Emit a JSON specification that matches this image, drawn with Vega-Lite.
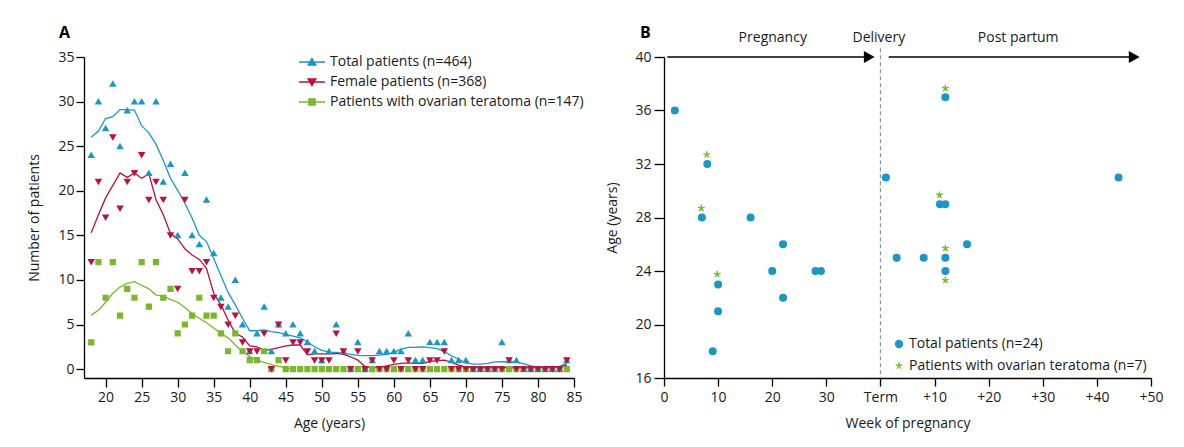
{
  "$schema": "https://vega.github.io/schema/vega-lite/v6.json",
  "background": "white",
  "padding": {"left": 27, "top": 24, "right": 5, "bottom": 5},
  "spacing": 21,
  "resolve": {
    "scale": {"fill": "independent", "stroke": "independent", "shape": "independent", "color": "independent"},
    "legend": {"fill": "independent", "stroke": "independent", "shape": "independent", "color": "independent"}
  },
  "config": {
    "view": {"stroke": null},
    "font": "Open Sans",
    "axis": {"domainColor": "#000", "domainWidth": 1.3, "tickColor": "#000", "tickWidth": 1.3, "labelFont": "Open Sans", "labelFontSize": 14, "labelColor": "#1a1a1a", "titleFont": "Open Sans", "titleFontSize": 14, "titleFontWeight": "normal", "titleColor": "#1a1a1a", "grid": false, "labelFlush": false, "labelOverlap": false},
    "legend": {"labelFont": "Open Sans", "labelFontSize": 14, "labelColor": "#1a1a1a", "symbolFillColor": "#000"}
  },
  "datasets": {
    "ptsA": [
      {"a":18,"n":3,"s":"O"},{"a":19,"n":12,"s":"O"},{"a":20,"n":8,"s":"O"},{"a":21,"n":12,"s":"O"},{"a":22,"n":6,"s":"O"},{"a":23,"n":9,"s":"O"},{"a":24,"n":8,"s":"O"},{"a":25,"n":12,"s":"O"},{"a":26,"n":7,"s":"O"},{"a":27,"n":12,"s":"O"},
      {"a":28,"n":8,"s":"O"},{"a":29,"n":9,"s":"O"},{"a":30,"n":4,"s":"O"},{"a":31,"n":5,"s":"O"},{"a":32,"n":6,"s":"O"},{"a":33,"n":8,"s":"O"},{"a":34,"n":6,"s":"O"},{"a":35,"n":6,"s":"O"},{"a":36,"n":4,"s":"O"},{"a":37,"n":2,"s":"O"},
      {"a":38,"n":4,"s":"O"},{"a":39,"n":2,"s":"O"},{"a":40,"n":1,"s":"O"},{"a":41,"n":1,"s":"O"},{"a":42,"n":2,"s":"O"},{"a":43,"n":0,"s":"O"},{"a":44,"n":1,"s":"O"},{"a":45,"n":0,"s":"O"},{"a":46,"n":0,"s":"O"},{"a":47,"n":0,"s":"O"},
      {"a":48,"n":0,"s":"O"},{"a":49,"n":0,"s":"O"},{"a":50,"n":0,"s":"O"},{"a":51,"n":0,"s":"O"},{"a":52,"n":0,"s":"O"},{"a":53,"n":0,"s":"O"},{"a":54,"n":0,"s":"O"},{"a":55,"n":0,"s":"O"},{"a":56,"n":0,"s":"O"},{"a":57,"n":0,"s":"O"},
      {"a":58,"n":0,"s":"O"},{"a":59,"n":0,"s":"O"},{"a":60,"n":0,"s":"O"},{"a":61,"n":0,"s":"O"},{"a":62,"n":0,"s":"O"},{"a":63,"n":0,"s":"O"},{"a":64,"n":0,"s":"O"},{"a":65,"n":0,"s":"O"},{"a":66,"n":0,"s":"O"},{"a":67,"n":0,"s":"O"},
      {"a":68,"n":0,"s":"O"},{"a":69,"n":0,"s":"O"},{"a":70,"n":0,"s":"O"},{"a":71,"n":0,"s":"O"},{"a":72,"n":0,"s":"O"},{"a":73,"n":0,"s":"O"},{"a":74,"n":0,"s":"O"},{"a":75,"n":0,"s":"O"},{"a":76,"n":0,"s":"O"},{"a":77,"n":0,"s":"O"},
      {"a":78,"n":0,"s":"O"},{"a":79,"n":0,"s":"O"},{"a":80,"n":0,"s":"O"},{"a":81,"n":0,"s":"O"},{"a":82,"n":0,"s":"O"},{"a":83,"n":0,"s":"O"},{"a":84,"n":0,"s":"O"},
      {"a":18,"n":24,"s":"T"},{"a":19,"n":30,"s":"T"},{"a":20,"n":27,"s":"T"},{"a":21,"n":32,"s":"T"},{"a":22,"n":25,"s":"T"},{"a":23,"n":29,"s":"T"},{"a":24,"n":30,"s":"T"},{"a":25,"n":30,"s":"T"},{"a":26,"n":22,"s":"T"},{"a":27,"n":30,"s":"T"},
      {"a":28,"n":21,"s":"T"},{"a":29,"n":23,"s":"T"},{"a":30,"n":15,"s":"T"},{"a":31,"n":22,"s":"T"},{"a":32,"n":15,"s":"T"},{"a":33,"n":14,"s":"T"},{"a":34,"n":19,"s":"T"},{"a":35,"n":13,"s":"T"},{"a":36,"n":8,"s":"T"},{"a":37,"n":7,"s":"T"},
      {"a":38,"n":10,"s":"T"},{"a":39,"n":5,"s":"T"},{"a":40,"n":2,"s":"T"},{"a":41,"n":4,"s":"T"},{"a":42,"n":7,"s":"T"},{"a":43,"n":2,"s":"T"},{"a":44,"n":5,"s":"T"},{"a":45,"n":4,"s":"T"},{"a":46,"n":5,"s":"T"},{"a":47,"n":4,"s":"T"},
      {"a":48,"n":3,"s":"T"},{"a":49,"n":2,"s":"T"},{"a":50,"n":1,"s":"T"},{"a":51,"n":2,"s":"T"},{"a":52,"n":5,"s":"T"},{"a":53,"n":2,"s":"T"},{"a":54,"n":0,"s":"T"},{"a":55,"n":3,"s":"T"},{"a":56,"n":0,"s":"T"},{"a":57,"n":1,"s":"T"},
      {"a":58,"n":2,"s":"T"},{"a":59,"n":2,"s":"T"},{"a":60,"n":2,"s":"T"},{"a":61,"n":2,"s":"T"},{"a":62,"n":4,"s":"T"},{"a":63,"n":1,"s":"T"},{"a":64,"n":1,"s":"T"},{"a":65,"n":3,"s":"T"},{"a":66,"n":3,"s":"T"},{"a":67,"n":3,"s":"T"},
      {"a":68,"n":1,"s":"T"},{"a":69,"n":1,"s":"T"},{"a":70,"n":1,"s":"T"},{"a":71,"n":0,"s":"T"},{"a":72,"n":0,"s":"T"},{"a":73,"n":0,"s":"T"},{"a":74,"n":0,"s":"T"},{"a":75,"n":3,"s":"T"},{"a":76,"n":1,"s":"T"},{"a":77,"n":1,"s":"T"},
      {"a":78,"n":0,"s":"T"},{"a":79,"n":0,"s":"T"},{"a":80,"n":0,"s":"T"},{"a":81,"n":0,"s":"T"},{"a":82,"n":0,"s":"T"},{"a":83,"n":0,"s":"T"},{"a":84,"n":1,"s":"T"},
      {"a":18,"n":12,"s":"F"},{"a":19,"n":21,"s":"F"},{"a":20,"n":17,"s":"F"},{"a":21,"n":26,"s":"F"},{"a":22,"n":18,"s":"F"},{"a":23,"n":21,"s":"F"},{"a":24,"n":22,"s":"F"},{"a":25,"n":24,"s":"F"},{"a":26,"n":19,"s":"F"},{"a":27,"n":21,"s":"F"},
      {"a":28,"n":19,"s":"F"},{"a":29,"n":15,"s":"F"},{"a":30,"n":9,"s":"F"},{"a":31,"n":19,"s":"F"},{"a":32,"n":11,"s":"F"},{"a":33,"n":11,"s":"F"},{"a":34,"n":12,"s":"F"},{"a":35,"n":8,"s":"F"},{"a":36,"n":7,"s":"F"},{"a":37,"n":5,"s":"F"},
      {"a":38,"n":6,"s":"F"},{"a":39,"n":3,"s":"F"},{"a":40,"n":2,"s":"F"},{"a":41,"n":2,"s":"F"},{"a":42,"n":4,"s":"F"},{"a":43,"n":0,"s":"F"},{"a":44,"n":5,"s":"F"},{"a":45,"n":1,"s":"F"},{"a":46,"n":3,"s":"F"},{"a":47,"n":3,"s":"F"},
      {"a":48,"n":2,"s":"F"},{"a":49,"n":1,"s":"F"},{"a":50,"n":1,"s":"F"},{"a":51,"n":1,"s":"F"},{"a":52,"n":4,"s":"F"},{"a":53,"n":2,"s":"F"},{"a":54,"n":0,"s":"F"},{"a":55,"n":2,"s":"F"},{"a":56,"n":0,"s":"F"},{"a":57,"n":1,"s":"F"},
      {"a":58,"n":0,"s":"F"},{"a":59,"n":0,"s":"F"},{"a":60,"n":1,"s":"F"},{"a":61,"n":0,"s":"F"},{"a":62,"n":1,"s":"F"},{"a":63,"n":0,"s":"F"},{"a":64,"n":0,"s":"F"},{"a":65,"n":1,"s":"F"},{"a":66,"n":1,"s":"F"},{"a":67,"n":2,"s":"F"},
      {"a":68,"n":0,"s":"F"},{"a":69,"n":0,"s":"F"},{"a":70,"n":0,"s":"F"},{"a":71,"n":0,"s":"F"},{"a":72,"n":0,"s":"F"},{"a":73,"n":0,"s":"F"},{"a":74,"n":0,"s":"F"},{"a":75,"n":0,"s":"F"},{"a":76,"n":1,"s":"F"},{"a":77,"n":0,"s":"F"},
      {"a":78,"n":0,"s":"F"},{"a":79,"n":0,"s":"F"},{"a":80,"n":0,"s":"F"},{"a":81,"n":0,"s":"F"},{"a":82,"n":0,"s":"F"},{"a":83,"n":0,"s":"F"},{"a":84,"n":1,"s":"F"}
    ],
    "smoothA": [
      {"a":18,"n":26,"g":"lt"},{"a":19,"n":26.7,"g":"lt"},{"a":20,"n":28.1,"g":"lt"},{"a":21,"n":28.3,"g":"lt"},{"a":22,"n":29.1,"g":"lt"},{"a":23,"n":29.1,"g":"lt"},{"a":24,"n":29.05,"g":"lt"},{"a":25,"n":27.3,"g":"lt"},{"a":26,"n":26.5,"g":"lt"},{"a":27,"n":25.2,"g":"lt"},
      {"a":28,"n":23.4,"g":"lt"},{"a":29,"n":21.4,"g":"lt"},{"a":30,"n":20.05,"g":"lt"},{"a":31,"n":18.6,"g":"lt"},{"a":32,"n":16.95,"g":"lt"},{"a":33,"n":15,"g":"lt"},{"a":34,"n":14.3,"g":"lt"},{"a":35,"n":12.4,"g":"lt"},{"a":36,"n":10.5,"g":"lt"},{"a":37,"n":8.6,"g":"lt"},
      {"a":38,"n":7.2,"g":"lt"},{"a":39,"n":5.7,"g":"lt"},{"a":40,"n":4.3,"g":"lt"},{"a":41,"n":4.3,"g":"lt"},{"a":42,"n":4.4,"g":"lt"},{"a":43,"n":4.2,"g":"lt"},{"a":44,"n":4.1,"g":"lt"},{"a":45,"n":3.9,"g":"lt"},{"a":46,"n":3.7,"g":"lt"},{"a":47,"n":3.5,"g":"lt"},
      {"a":48,"n":3.06,"g":"lt"},{"a":49,"n":2.5,"g":"lt"},{"a":50,"n":2.1,"g":"lt"},{"a":51,"n":1.9,"g":"lt"},{"a":52,"n":1.87,"g":"lt"},{"a":53,"n":1.75,"g":"lt"},{"a":54,"n":1.64,"g":"lt"},{"a":55,"n":1.53,"g":"lt"},{"a":56,"n":1.5,"g":"lt"},{"a":57,"n":1.5,"g":"lt"},
      {"a":58,"n":1.57,"g":"lt"},{"a":59,"n":1.64,"g":"lt"},{"a":60,"n":1.87,"g":"lt"},{"a":61,"n":2.24,"g":"lt"},{"a":62,"n":2.43,"g":"lt"},{"a":63,"n":2.45,"g":"lt"},{"a":64,"n":2.5,"g":"lt"},{"a":65,"n":2.4,"g":"lt"},{"a":66,"n":2.3,"g":"lt"},{"a":67,"n":1.95,"g":"lt"},
      {"a":68,"n":1.5,"g":"lt"},{"a":69,"n":1.1,"g":"lt"},{"a":70,"n":0.7,"g":"lt"},{"a":71,"n":0.55,"g":"lt"},{"a":72,"n":0.55,"g":"lt"},{"a":73,"n":0.63,"g":"lt"},{"a":74,"n":0.8,"g":"lt"},{"a":75,"n":0.82,"g":"lt"},{"a":76,"n":0.82,"g":"lt"},{"a":77,"n":0.78,"g":"lt"},
      {"a":78,"n":0.6,"g":"lt"},{"a":79,"n":0.35,"g":"lt"},{"a":80,"n":0.22,"g":"lt"},{"a":81,"n":0.22,"g":"lt"},{"a":82,"n":0.22,"g":"lt"},{"a":83,"n":0.3,"g":"lt"},{"a":84,"n":0.63,"g":"lt"},
      {"a":18,"n":15.3,"g":"lf"},{"a":19,"n":17.3,"g":"lf"},{"a":20,"n":19.2,"g":"lf"},{"a":21,"n":20.6,"g":"lf"},{"a":22,"n":22.0,"g":"lf"},{"a":23,"n":21.5,"g":"lf"},{"a":24,"n":22.0,"g":"lf"},{"a":25,"n":21.4,"g":"lf"},{"a":26,"n":21.9,"g":"lf"},{"a":27,"n":19.0,"g":"lf"},
      {"a":28,"n":17.3,"g":"lf"},{"a":29,"n":15.2,"g":"lf"},{"a":30,"n":14.6,"g":"lf"},{"a":31,"n":13.5,"g":"lf"},{"a":32,"n":12.8,"g":"lf"},{"a":33,"n":12.3,"g":"lf"},{"a":34,"n":11.3,"g":"lf"},{"a":35,"n":8.5,"g":"lf"},{"a":36,"n":7.2,"g":"lf"},{"a":37,"n":5.5,"g":"lf"},
      {"a":38,"n":4.0,"g":"lf"},{"a":39,"n":3.6,"g":"lf"},{"a":40,"n":2.6,"g":"lf"},{"a":41,"n":2.5,"g":"lf"},{"a":42,"n":2.1,"g":"lf"},{"a":43,"n":2.2,"g":"lf"},{"a":44,"n":2.4,"g":"lf"},{"a":45,"n":2.6,"g":"lf"},{"a":46,"n":2.7,"g":"lf"},{"a":47,"n":2.7,"g":"lf"},
      {"a":48,"n":1.6,"g":"lf"},{"a":49,"n":1.7,"g":"lf"},{"a":50,"n":1.7,"g":"lf"},{"a":51,"n":1.7,"g":"lf"},{"a":52,"n":1.75,"g":"lf"},{"a":53,"n":1.64,"g":"lf"},{"a":54,"n":1.38,"g":"lf"},{"a":55,"n":1.0,"g":"lf"},{"a":56,"n":0.3,"g":"lf"},{"a":57,"n":0.15,"g":"lf"},
      {"a":58,"n":0.2,"g":"lf"},{"a":59,"n":0.37,"g":"lf"},{"a":60,"n":0.52,"g":"lf"},{"a":61,"n":0.63,"g":"lf"},{"a":62,"n":0.7,"g":"lf"},{"a":63,"n":0.63,"g":"lf"},{"a":64,"n":0.65,"g":"lf"},{"a":65,"n":0.85,"g":"lf"},{"a":66,"n":0.95,"g":"lf"},{"a":67,"n":1.0,"g":"lf"},
      {"a":68,"n":0.75,"g":"lf"},{"a":69,"n":0.45,"g":"lf"},{"a":70,"n":0.26,"g":"lf"},{"a":71,"n":0.18,"g":"lf"},{"a":72,"n":0.15,"g":"lf"},{"a":73,"n":0.15,"g":"lf"},{"a":74,"n":0.15,"g":"lf"},{"a":75,"n":0.15,"g":"lf"},{"a":76,"n":0.15,"g":"lf"},{"a":77,"n":0.15,"g":"lf"},
      {"a":78,"n":0.15,"g":"lf"},{"a":79,"n":0.15,"g":"lf"},{"a":80,"n":0.15,"g":"lf"},{"a":81,"n":0.15,"g":"lf"},{"a":82,"n":0.15,"g":"lf"},{"a":83,"n":0.25,"g":"lf"},{"a":84,"n":0.45,"g":"lf"},
      {"a":18,"n":6.05,"g":"lo"},{"a":19,"n":6.6,"g":"lo"},{"a":20,"n":7.5,"g":"lo"},{"a":21,"n":8.5,"g":"lo"},{"a":22,"n":9.2,"g":"lo"},{"a":23,"n":9.6,"g":"lo"},{"a":24,"n":9.8,"g":"lo"},{"a":25,"n":9.4,"g":"lo"},{"a":26,"n":9.0,"g":"lo"},{"a":27,"n":8.3,"g":"lo"},
      {"a":28,"n":8.2,"g":"lo"},{"a":29,"n":7.8,"g":"lo"},{"a":30,"n":7.5,"g":"lo"},{"a":31,"n":6.9,"g":"lo"},{"a":32,"n":6.2,"g":"lo"},{"a":33,"n":5.7,"g":"lo"},{"a":34,"n":5.2,"g":"lo"},{"a":35,"n":4.6,"g":"lo"},{"a":36,"n":4.0,"g":"lo"},{"a":37,"n":3.5,"g":"lo"},
      {"a":38,"n":2.7,"g":"lo"},{"a":39,"n":2.0,"g":"lo"},{"a":40,"n":1.4,"g":"lo"},{"a":41,"n":1.0,"g":"lo"},{"a":42,"n":0.75,"g":"lo"},{"a":43,"n":0.5,"g":"lo"},{"a":44,"n":0.3,"g":"lo"},{"a":45,"n":0.15,"g":"lo"},{"a":46,"n":0,"g":"lo"}
    ],
    "ptsB": [
      {"w":2,"y":36,"s":"T"},{"w":8,"y":32,"s":"T"},{"w":7,"y":28,"s":"T"},{"w":16,"y":28,"s":"T"},{"w":10,"y":23,"s":"T"},{"w":10,"y":21,"s":"T"},{"w":9,"y":18,"s":"T"},{"w":20,"y":24,"s":"T"},{"w":22,"y":26,"s":"T"},{"w":22,"y":22,"s":"T"},{"w":28,"y":24,"s":"T"},{"w":29,"y":24,"s":"T"},
      {"w":41,"y":31,"s":"T"},{"w":52,"y":37,"s":"T"},{"w":84,"y":31,"s":"T"},{"w":51,"y":29,"s":"T"},{"w":52,"y":29,"s":"T"},{"w":56,"y":26,"s":"T"},{"w":43,"y":25,"s":"T"},{"w":48,"y":25,"s":"T"},{"w":52,"y":25,"s":"T"},{"w":52,"y":24,"s":"T"}
    ],
    "starsB": [
      {"w":7.9,"y":32.7,"s":"O"},{"w":6.9,"y":28.7,"s":"O"},{"w":9.85,"y":23.75,"s":"O"},{"w":52,"y":37.66,"s":"O"},{"w":50.9,"y":29.68,"s":"O"},{"w":52,"y":25.7,"s":"O"},{"w":52,"y":23.3,"s":"O"}
    ]
  },
  "hconcat": [
    {
      "width": 490,
      "height": 321,
      "title": {"text": "A", "anchor": "start", "frame": "group", "dx": -25, "offset": -4, "fontSize": 16, "fontWeight": "bold", "font": "Open Sans", "baseline": "alphabetic", "color": "#000"},
      "encoding": {
        "x": {"field": "a", "type": "quantitative", "scale": {"domain": [17, 85], "nice": false, "zero": false},
              "axis": {"values": [20,25,30,35,40,45,50,55,60,65,70,75,80,85], "title": "Age (years)", "tickSize": 9, "labelPadding": 3, "titlePadding": 12}},
        "y": {"field": "n", "type": "quantitative", "scale": {"domain": [-1, 35], "nice": false, "zero": false},
              "axis": {"values": [0,5,10,15,20,25,30,35], "title": "Number of patients", "tickSize": 8, "labelPadding": 2, "titlePadding": 16}}
      },
      "layer": [
        {
          "data": {"values": [{"a": 17, "a2": 85}]},
          "mark": {"type": "rule", "strokeDash": [4, 3], "color": "#5b8092", "strokeWidth": 1.2},
          "encoding": {"x": {"field": "a", "type": "quantitative"}, "x2": {"field": "a2"}, "y": {"datum": 0}}
        },
        {
          "data": {"name": "smoothA"},
          "mark": {"type": "line", "strokeWidth": 1.3},
          "encoding": {
            "color": {"field": "g", "type": "nominal", "scale": {"domain": ["lt", "lf", "lo"], "range": ["#1a97c8", "#b8123f", "#78b82a"]}, "legend": null}
          }
        },
        {
          "data": {"name": "ptsA"},
          "mark": {"type": "point", "filled": true, "size": 100, "strokeWidth": 0, "opacity": 1},
          "encoding": {
            "fill": {"field": "s", "type": "nominal", "scale": {"domain": ["T", "F", "O"], "range": ["#1a97c8", "#b8123f", "#78b82a"]},
                     "legend": {"title": null, "orient": "none", "legendX": 214, "legendY": -2, "symbolSize": 100, "symbolStrokeWidth": 1.5, "symbolOffset": 7, "labelOffset": 11, "rowPadding": 6, "padding": 0, "labelFontSize": 14, "labelLimit": 400,
                                "labelExpr": "datum.label == 'T' ? 'Total patients (n=464)' : datum.label == 'F' ? 'Female patients (n=368)' : 'Patients with ovarian teratoma (n=147)'"}},
            "stroke": {"field": "s", "type": "nominal", "scale": {"domain": ["T", "F", "O"], "range": ["#1a97c8", "#b8123f", "#78b82a"]},
                     "legend": {"title": null, "orient": "none", "legendX": 214, "legendY": -2, "symbolSize": 100, "symbolStrokeWidth": 1.5, "symbolOffset": 7, "labelOffset": 11, "rowPadding": 6, "padding": 0, "labelFontSize": 14, "labelLimit": 400,
                                "labelExpr": "datum.label == 'T' ? 'Total patients (n=464)' : datum.label == 'F' ? 'Female patients (n=368)' : 'Patients with ovarian teratoma (n=147)'"}},
            "shape": {"field": "s", "type": "nominal", "scale": {"domain": ["T", "F", "O"], "range": ["M-2.6,0H2.6M0,-0.7L0.75,0.6H-0.75Z", "M-2.6,0H2.6M0,0.7L0.75,-0.6H-0.75Z", "M-2.6,0H2.6M-0.62,-0.62H0.62V0.62H-0.62Z"]},
                     "legend": {"title": null, "orient": "none", "legendX": 214, "legendY": -2, "symbolSize": 100, "symbolStrokeWidth": 1.5, "symbolOffset": 7, "labelOffset": 11, "rowPadding": 6, "padding": 0, "labelFontSize": 14, "labelLimit": 400,
                                "labelExpr": "datum.label == 'T' ? 'Total patients (n=464)' : datum.label == 'F' ? 'Female patients (n=368)' : 'Patients with ovarian teratoma (n=147)'"}}
          }
        }
      ]
    },
    {
      "width": 487,
      "height": 321,
      "title": {"text": "B", "anchor": "start", "frame": "group", "dx": -24, "offset": -23, "fontSize": 16, "fontWeight": "bold", "font": "Open Sans", "baseline": "alphabetic", "color": "#000"},
      "encoding": {
        "x": {"field": "w", "type": "quantitative", "scale": {"domain": [0, 90], "nice": false, "zero": false},
              "axis": {"values": [0,10,20,30,40,50,60,70,80,90], "title": "Week of pregnancy", "tickSize": 8, "labelPadding": 4, "titlePadding": 12,
                       "labelExpr": "datum.value == 40 ? 'Term' : datum.value > 40 ? '+' + (datum.value - 40) : datum.label"}},
        "y": {"field": "y", "type": "quantitative", "scale": {"domain": [16, 40], "nice": false, "zero": false},
              "axis": {"values": [16,20,24,28,32,36,40], "title": "Age (years)", "tickSize": 10, "labelPadding": 3, "titlePadding": 15}}
      },
      "layer": [
        {
          "data": {"values": [{"w": 40, "y": 40.65, "y2": 16}]},
          "mark": {"type": "rule", "strokeDash": [4, 3], "color": "#7f95a3", "strokeWidth": 1.2, "clip": false},
          "encoding": {"y2": {"field": "y2"}}
        },
        {
          "data": {"values": [{"w": 0.63, "w2": 38.2, "y": 40}, {"w": 41.54, "w2": 87.1, "y": 40}]},
          "mark": {"type": "rule", "color": "#000", "strokeWidth": 1.5},
          "encoding": {"x2": {"field": "w2"}}
        },
        {
          "data": {"values": [{"w": 37.94, "y": 40}, {"w": 86.9, "y": 40}]},
          "mark": {"type": "point", "filled": true, "color": "#000", "opacity": 1, "size": 144, "shape": "M-0.9,-1L0.9,0L-0.9,1Z", "strokeWidth": 0},
          "encoding": {}
        },
        {
          "data": {"values": [{"w": 20.1, "y": 41.15, "t": "Pregnancy"}, {"w": 39.7, "y": 41.15, "t": "Delivery"}, {"w": 65.45, "y": 41.15, "t": "Post partum"}]},
          "mark": {"type": "text", "align": "center", "baseline": "alphabetic", "fontSize": 14, "font": "Open Sans", "color": "#1a1a1a"},
          "encoding": {"text": {"field": "t"}}
        },
        {
          "data": {"name": "ptsB"},
          "mark": {"type": "point", "filled": true, "size": 64, "strokeWidth": 0, "opacity": 1},
          "encoding": {
            "fill": {"field": "s", "type": "nominal", "scale": {"domain": ["T", "O"], "range": ["#1a97c8", "#78b82a"]},
                     "legend": {"title": null, "orient": "none", "legendX": 228, "legendY": 280, "symbolSize": 50, "symbolStrokeWidth": 1.3, "labelOffset": 3, "rowPadding": 7.7, "padding": 0, "labelFontSize": 14, "labelLimit": 400,
                                "labelExpr": "datum.label == 'T' ? 'Total patients (n=24)' : 'Patients with ovarian teratoma (n=7)'"}},
            "stroke": {"field": "s", "type": "nominal", "scale": {"domain": ["T", "O"], "range": ["#1a97c8", "#78b82a"]},
                     "legend": {"title": null, "orient": "none", "legendX": 228, "legendY": 280, "symbolSize": 50, "symbolStrokeWidth": 1.3, "labelOffset": 3, "rowPadding": 7.7, "padding": 0, "labelFontSize": 14, "labelLimit": 400,
                                "labelExpr": "datum.label == 'T' ? 'Total patients (n=24)' : 'Patients with ovarian teratoma (n=7)'"}},
            "shape": {"field": "s", "type": "nominal", "scale": {"domain": ["T", "O"], "range": ["circle", "M0,0V-1M0,0L0.95,-0.31M0,0L0.59,0.81M0,0L-0.59,0.81M0,0L-0.95,-0.31"]},
                     "legend": {"title": null, "orient": "none", "legendX": 228, "legendY": 280, "symbolSize": 50, "symbolStrokeWidth": 1.3, "labelOffset": 3, "rowPadding": 7.7, "padding": 0, "labelFontSize": 14, "labelLimit": 400,
                                "labelExpr": "datum.label == 'T' ? 'Total patients (n=24)' : 'Patients with ovarian teratoma (n=7)'"}}
          }
        },
        {
          "data": {"name": "starsB"},
          "mark": {"type": "point", "filled": true, "size": 49, "strokeWidth": 1.4, "opacity": 1},
          "encoding": {
            "fill": {"field": "s", "type": "nominal", "scale": {"domain": ["T", "O"], "range": ["#1a97c8", "#78b82a"]}},
            "stroke": {"field": "s", "type": "nominal", "scale": {"domain": ["T", "O"], "range": ["#1a97c8", "#78b82a"]}},
            "shape": {"field": "s", "type": "nominal", "scale": {"domain": ["T", "O"], "range": ["circle", "M0,0V-1M0,0L0.95,-0.31M0,0L0.59,0.81M0,0L-0.59,0.81M0,0L-0.95,-0.31"]}}
          }
        }
      ]
    }
  ]
}
